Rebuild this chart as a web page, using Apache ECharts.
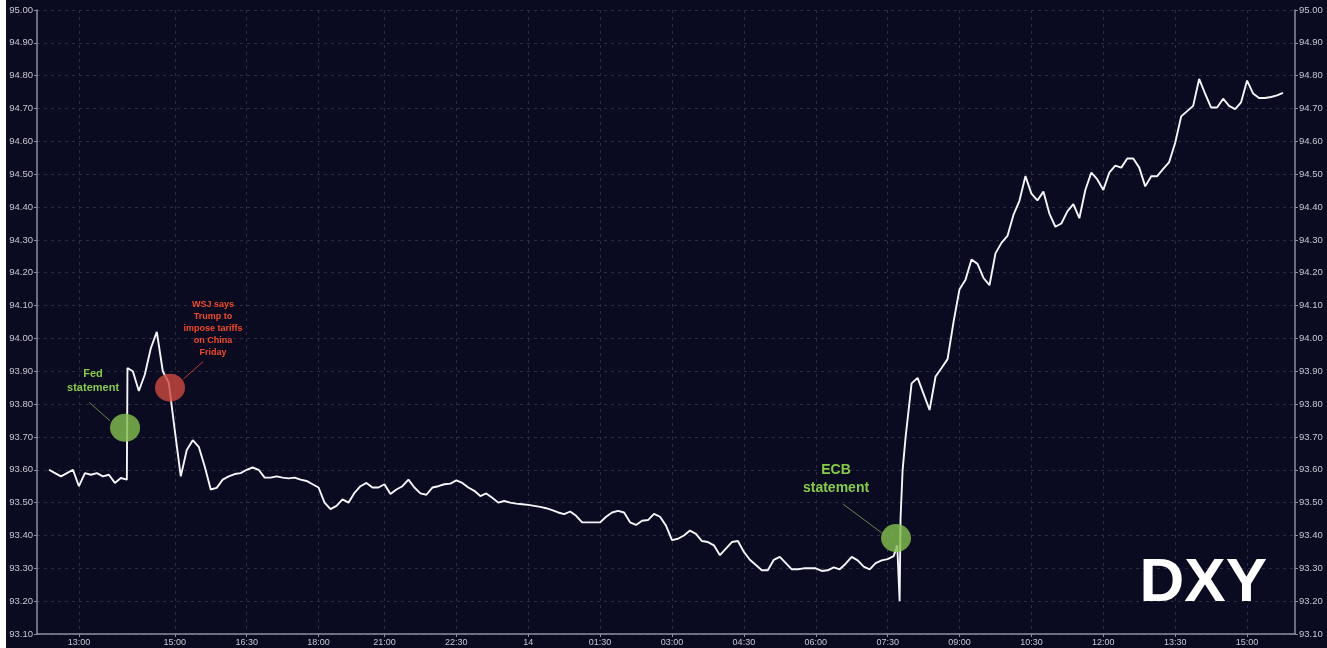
<!DOCTYPE html>
<html>
<head>
<meta charset="utf-8">
<script src="https://cdn.jsdelivr.net/npm/echarts@6/dist/echarts.min.js"></script>
<style>
html,body{margin:0;padding:0;background:#ffffff;}
#chart{width:1327px;height:648px;}
</style>
</head>
<body>
<div id="chart"></div>
<script>
// ---- Data ----
const firstIndex = 2;      // first slot that has a price
const slotCount = 211;     // number of time slots on the axis
const dxyValues = [
  93.60,93.59,93.58,93.59,93.60,93.55,93.59,93.585,93.59,93.58,
  93.585,93.56,93.575,93.57,93.90,93.84,93.89,93.97,94.02,93.90,
  93.865,93.72,93.58,93.66,93.69,93.67,93.61,93.54,93.545,93.57,
  93.58,93.587,93.59,93.60,93.607,93.60,93.576,93.576,93.58,93.576,
  93.574,93.576,93.57,93.566,93.556,93.546,93.50,93.48,93.49,93.51,
  93.50,93.53,93.55,93.56,93.546,93.546,93.556,93.526,93.54,93.55,
  93.57,93.546,93.528,93.524,93.546,93.55,93.556,93.558,93.568,93.56,
  93.546,93.536,93.52,93.528,93.515,93.50,93.505,93.50,93.497,93.495,
  93.493,93.49,93.487,93.483,93.477,93.47,93.465,93.473,93.46,93.44,
  93.44,93.44,93.44,93.457,93.47,93.475,93.47,93.44,93.432,93.445,
  93.447,93.466,93.457,93.43,93.386,93.39,93.40,93.415,93.405,93.383,
  93.38,93.37,93.34,93.36,93.38,93.383,93.35,93.326,93.31,93.294,
  93.294,93.326,93.335,93.316,93.297,93.297,93.30,93.30,93.30,93.292,
  93.294,93.303,93.297,93.314,93.335,93.324,93.305,93.297,93.316,93.324,
  93.328,93.337,93.20,93.70,93.863,93.88,93.831,93.782,93.884,93.91,
  93.937,94.05,94.15,94.179,94.24,94.227,94.184,94.162,94.259,94.291,
  94.312,94.376,94.419,94.494,94.441,94.42,94.447,94.38,94.34,94.35,
  94.387,94.409,94.366,94.452,94.505,94.484,94.452,94.505,94.526,94.52,
  94.548,94.548,94.52,94.463,94.494,94.494,94.516,94.537,94.596,94.676,
  94.692,94.708,94.79,94.745,94.703,94.703,94.73,94.708,94.698,94.719,
  94.785,94.746,94.732,94.732,94.735,94.74,94.748
];
// extra prints inside a slot, at the two news jumps: [slot, value]
const jumpTicks = [
  [15.1, 93.91],
  [143.6, 93.37], [144.15, 93.45], [144.5, 93.60]
];
const tickIndex  = [7,23,35,47,58,70,82,94,106,118,130,142,154,166,178,190,202];
const tickLabels = ['13:00','15:00','16:30','18:00','21:00','22:30','14','01:30','03:00','04:30','06:00','07:30','09:00','10:30','12:00','13:30','15:00'];
const yMin = 93.1, yMax = 95.0, yStep = 0.1;

// events: [slot, value]
const eventNames  = ['Fed statement', 'WSJ', 'ECB statement'];
const eventPoints = [[14.7, 93.728], [22.2, 93.85], [143.4, 93.392]];
const eventTexts  = ['Fed\nstatement', 'WSJ says\nTrump to\nimpose tariffs\non China\nFriday', 'ECB\nstatement'];
const leaderLines = [
  [[8.73, 93.805], [12.2, 93.749]],
  [[27.76, 93.93], [24.42, 93.876]],
  [[134.6, 93.495], [141.0, 93.408]]
];

// ---- Build ----
const categories = [];
for (let i = 0; i < slotCount; i++) categories.push(String(i));
const linePoints = dxyValues.map((v, k) => [firstIndex + k, v])
  .concat(jumpTicks)
  .sort((a, b) => a[0] - b[0]);
const tickMap = {};
tickIndex.forEach((idx, k) => { tickMap[idx] = tickLabels[k]; });
const isTick = (i) => tickMap[i] !== undefined;

const green = '#86cc4a';
const red = '#f24a28';
const eventStyles = [
  { fill: 'rgba(130,190,78,0.82)', text: green, size: 11, offset: [-32, -47], lh: 14, line: '#66884f' },
  { fill: 'rgba(206,74,62,0.8)', text: red, size: 9, offset: [43, -59], lh: 12, line: '#b83c2c' },
  { fill: 'rgba(130,190,78,0.82)', text: green, size: 14, offset: [-60, -59], lh: 18, line: '#66884f' }
];

const axisCol = '#8e8ea0';
const labelCol = '#c8c8d0';
const fontFam = 'Liberation Sans, Arial, sans-serif';

const yAxisCommon = {
  type: 'value', min: yMin, max: yMax, interval: yStep,
  axisLine: { show: true, lineStyle: { color: axisCol, width: 1.5 } },
  axisTick: { show: true, length: 3, lineStyle: { color: axisCol } },
  axisLabel: { color: labelCol, fontSize: 9.5, fontFamily: fontFam, margin: 4,
    formatter: v => v.toFixed(2) }
};

const chart = echarts.init(document.getElementById('chart'), null, { renderer: 'canvas' });
chart.setOption({
  backgroundColor: '#0a0a21',
  animation: false,
  grid: { left: 37, right: 32, top: 10, bottom: 14, containLabel: false },
  xAxis: [
    {
      type: 'category', data: categories, boundaryGap: false,
      axisLine: { lineStyle: { color: axisCol, width: 1.5 } },
      axisTick: { show: true, length: 3, interval: (i) => isTick(i), lineStyle: { color: axisCol } },
      axisLabel: { interval: (i) => isTick(i), formatter: (v, i) => tickMap[i] || '',
        color: labelCol, fontSize: 9, fontFamily: fontFam, margin: 4 },
      splitLine: { show: true, interval: (i) => isTick(i),
        lineStyle: { color: '#2c2c44', type: [3, 4], width: 1 } }
    },
    {
      type: 'value', min: 0, max: slotCount - 1, show: false,
      axisLine: { show: false }, axisTick: { show: false }, axisLabel: { show: false },
      splitLine: { show: false }
    }
  ],
  yAxis: [
    Object.assign({}, yAxisCommon, { position: 'left',
      splitLine: { show: true, lineStyle: { color: '#2c2c44', type: [3, 4], width: 1 } } }),
    Object.assign({}, yAxisCommon, { position: 'right', splitLine: { show: false } })
  ],
  series: [
    {
      name: 'DXY', type: 'line', xAxisIndex: 1, data: linePoints, symbol: 'none',
      lineStyle: { color: '#f6f6fa', width: 1.9 }, z: 3
    },
    {
      name: 'leaders', type: 'lines', coordinateSystem: 'cartesian2d', xAxisIndex: 1, z: 4,
      data: leaderLines.map((c, k) => ({ coords: c, lineStyle: { color: eventStyles[k].line, width: 1, opacity: 1 } })),
      lineStyle: { width: 1, opacity: 1 }, silent: true
    },
    {
      name: 'events', type: 'scatter', xAxisIndex: 1, z: 5, silent: true,
      symbol: 'circle', symbolSize: [30, 28],
      itemStyle: { opacity: 1 },
      data: eventPoints.map((p, k) => ({
        name: eventNames[k], value: p,
        itemStyle: { color: eventStyles[k].fill, opacity: 1 },
        label: {
          show: true, position: 'inside', offset: eventStyles[k].offset,
          formatter: eventTexts[k], color: eventStyles[k].text, opacity: 1,
          textBorderWidth: 0, textBorderColor: 'transparent',
          fontSize: eventStyles[k].size, fontWeight: 'bold', fontFamily: fontFam,
          lineHeight: eventStyles[k].lh, align: 'center', verticalAlign: 'middle'
        }
      }))
    }
  ],
  graphic: [
    { type: 'rect', left: 0, top: 0, shape: { width: 6, height: 648 }, style: { fill: '#ffffff' }, z: 100 },
    { type: 'text', right: 60, top: 553, z: 100,
      style: { text: 'DXY', fill: '#ffffff', font: 'bold 62px Liberation Sans, Arial, sans-serif' } }
  ]
});
</script>
</body>
</html>
